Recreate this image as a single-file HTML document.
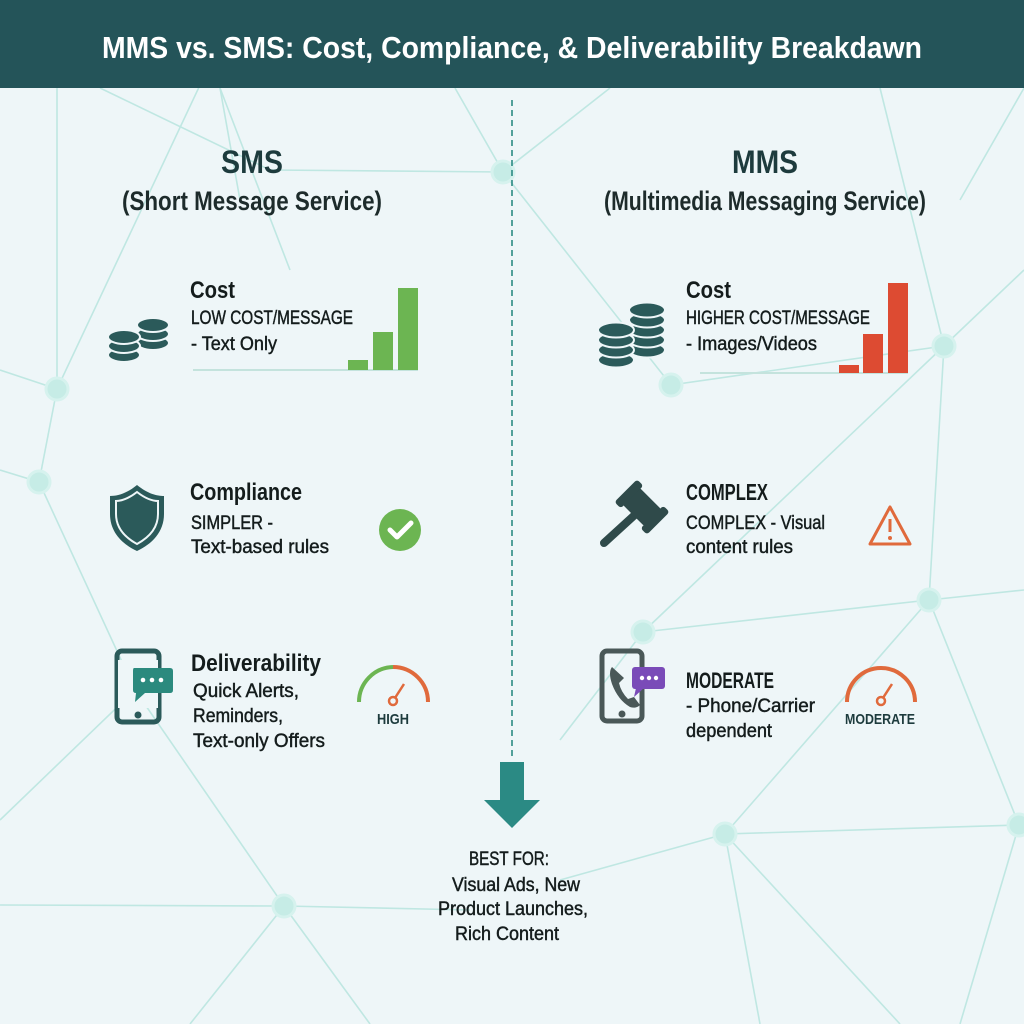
<!DOCTYPE html>
<html><head><meta charset="utf-8"><style>
html,body{margin:0;padding:0;background:#eef6f8}
svg{display:block}
text{font-family:"Liberation Sans Narrow","Liberation Sans",sans-serif;fill:#141c1c}
.b{font-weight:bold}
.r{stroke:#141c1c;stroke-width:0.45}
</style></head><body>
<svg width="1024" height="1024" viewBox="0 0 1024 1024" xmlns="http://www.w3.org/2000/svg">
<rect width="1024" height="1024" fill="#eef6f8"/>
<g stroke="#bfe7e2" stroke-width="1.6" fill="none">
<line x1="57" y1="88" x2="57" y2="389"/>
<line x1="57" y1="389" x2="0" y2="370"/>
<line x1="57" y1="389" x2="39" y2="482"/>
<line x1="39" y1="482" x2="0" y2="470"/>
<line x1="39" y1="482" x2="135" y2="690"/>
<line x1="135" y1="690" x2="284" y2="906"/>
<line x1="57" y1="389" x2="240" y2="0"/>
<line x1="100" y1="88" x2="270" y2="170"/>
<line x1="220" y1="88" x2="240" y2="200"/>
<line x1="503" y1="172" x2="270" y2="170"/>
<line x1="503" y1="172" x2="455" y2="88"/>
<line x1="503" y1="172" x2="610" y2="88"/>
<line x1="503" y1="172" x2="671" y2="385"/>
<line x1="671" y1="385" x2="944" y2="346"/>
<line x1="944" y1="346" x2="1024" y2="270"/>
<line x1="944" y1="346" x2="880" y2="88"/>
<line x1="944" y1="346" x2="929" y2="600"/>
<line x1="944" y1="346" x2="643" y2="632"/>
<line x1="929" y1="600" x2="643" y2="632"/>
<line x1="929" y1="600" x2="1024" y2="590"/>
<line x1="929" y1="600" x2="1019" y2="825"/>
<line x1="929" y1="600" x2="725" y2="834"/>
<line x1="643" y1="632" x2="560" y2="740"/>
<line x1="725" y1="834" x2="1019" y2="825"/>
<line x1="725" y1="834" x2="560" y2="880"/>
<line x1="725" y1="834" x2="900" y2="1024"/>
<line x1="725" y1="834" x2="760" y2="1024"/>
<line x1="1019" y1="825" x2="960" y2="1024"/>
<line x1="284" y1="906" x2="0" y2="905"/>
<line x1="284" y1="906" x2="470" y2="910"/>
<line x1="284" y1="906" x2="190" y2="1024"/>
<line x1="284" y1="906" x2="370" y2="1024"/>
<line x1="0" y1="820" x2="135" y2="690"/>
<line x1="220" y1="88" x2="290" y2="270"/>
<line x1="1024" y1="88" x2="960" y2="200"/>
</g>
<g fill="#c6ece6" stroke="#d6f2ee" stroke-width="3">
<circle cx="57" cy="389" r="11"/><circle cx="39" cy="482" r="11"/><circle cx="503" cy="172" r="11"/>
<circle cx="671" cy="385" r="11"/><circle cx="944" cy="346" r="11"/><circle cx="929" cy="600" r="11"/>
<circle cx="643" cy="632" r="11"/><circle cx="725" cy="834" r="11"/><circle cx="1019" cy="825" r="11"/>
<circle cx="284" cy="906" r="11"/>
</g>
<rect width="1024" height="88" fill="#245459"/>
<text x="512" y="58" text-anchor="middle" class="b" style="fill:#fff" font-size="31" textLength="820" lengthAdjust="spacingAndGlyphs">MMS vs. SMS: Cost, Compliance, &amp; Deliverability Breakdawn</text>
<line x1="512" y1="100" x2="512" y2="760" stroke="#2b8a84" stroke-width="1.6" stroke-dasharray="6,4"/>
<path d="M500 762 H524 V800 H540 L512 828 L484 800 H500 Z" fill="#2b8a84"/>
<text x="252" y="173" text-anchor="middle" class="b" font-size="32" textLength="62" lengthAdjust="spacingAndGlyphs" style="fill:#1d3b3d">SMS</text>
<text x="252" y="210" text-anchor="middle" font-size="27" textLength="260" lengthAdjust="spacingAndGlyphs" style="fill:#1d2b2b;font-weight:bold">(Short Message Service)</text>
<text x="765" y="173" text-anchor="middle" class="b" font-size="32" textLength="66" lengthAdjust="spacingAndGlyphs" style="fill:#1d3b3d">MMS</text>
<text x="765" y="210" text-anchor="middle" font-size="27" textLength="322" lengthAdjust="spacingAndGlyphs" style="fill:#1d2b2b;font-weight:bold">(Multimedia Messaging Service)</text>
<!-- left cost -->
<g fill="#2b5a5a" stroke="#eef6f8" stroke-width="2">
<ellipse cx="153" cy="343" rx="16" ry="7"/><ellipse cx="153" cy="334" rx="16" ry="7"/><ellipse cx="153" cy="325" rx="16" ry="7"/>
<ellipse cx="124" cy="355" rx="16" ry="7"/><ellipse cx="124" cy="346" rx="16" ry="7"/><ellipse cx="124" cy="337" rx="16" ry="7"/>
</g>
<text x="190" y="298" class="b" font-size="24" textLength="45" lengthAdjust="spacingAndGlyphs">Cost</text>
<text x="191" y="324" class="r" font-size="19" textLength="162" lengthAdjust="spacingAndGlyphs">LOW COST/MESSAGE</text>
<text x="191" y="350" class="r" font-size="19" textLength="86" lengthAdjust="spacingAndGlyphs">- Text Only</text>
<line x1="193" y1="370" x2="418" y2="370" stroke="#c4e3dd" stroke-width="2"/>
<g fill="#6cb552"><rect x="348" y="360" width="20" height="10"/><rect x="373" y="332" width="20" height="38"/><rect x="398" y="288" width="20" height="82"/></g>
<!-- shield -->
<path d="M137 485 C126 494 117 496 110 496 L110 514 C110 532 122 544 137 551 C152 544 164 532 164 514 L164 496 C157 496 148 494 137 485 Z" fill="#2b5a5a"/>
<path d="M137 492 C128 499 121 501 116 501 L116 514 C116 529 126 538 137 544 C148 538 158 529 158 514 L158 501 C153 501 146 499 137 492 Z" fill="none" stroke="#eef6f8" stroke-width="2"/>
<text x="190" y="500" class="b" font-size="24" textLength="112" lengthAdjust="spacingAndGlyphs">Compliance</text>
<text x="191" y="529" class="r" font-size="19" textLength="82" lengthAdjust="spacingAndGlyphs">SIMPLER -</text>
<text x="191" y="553" class="r" font-size="19" textLength="138" lengthAdjust="spacingAndGlyphs">Text-based rules</text>
<circle cx="400" cy="530" r="21" fill="#6cb552"/>
<path d="M390 530 L397 537 L411 523" fill="none" stroke="#fff" stroke-width="5" stroke-linecap="round" stroke-linejoin="round"/>
<!-- phone left -->
<rect x="117" y="651" width="42" height="71" rx="5" fill="none" stroke="#2b5a5a" stroke-width="5"/>
<rect x="118" y="660" width="40" height="48" fill="#eef6f8"/>
<circle cx="138" cy="715" r="3.5" fill="#2b5a5a"/>
<path d="M134 668 H170 Q173 668 173 671 V690 Q173 693 170 693 H145 L135 702 L136 693 Q133 693 133 690 V671 Q133 668 134 668 Z" fill="#2b8a7e"/>
<circle cx="143" cy="680" r="2.3" fill="#fff"/><circle cx="152" cy="680" r="2.3" fill="#fff"/><circle cx="161" cy="680" r="2.3" fill="#fff"/>
<text x="191" y="671" class="b" font-size="24" textLength="130" lengthAdjust="spacingAndGlyphs">Deliverability</text>
<text x="193" y="697" class="r" font-size="19" textLength="106" lengthAdjust="spacingAndGlyphs">Quick Alerts,</text>
<text x="193" y="722" class="r" font-size="19" textLength="90" lengthAdjust="spacingAndGlyphs">Reminders,</text>
<text x="193" y="747" class="r" font-size="19" textLength="132" lengthAdjust="spacingAndGlyphs">Text-only Offers</text>
<path d="M359 702 A35 35 0 0 1 393 667" fill="none" stroke="#6cb552" stroke-width="4"/>
<path d="M393 667 A35 35 0 0 1 428 702" fill="none" stroke="#e06a3c" stroke-width="4"/>
<line x1="393" y1="701" x2="404" y2="684" stroke="#e06a3c" stroke-width="2.5"/>
<circle cx="393" cy="701" r="4" fill="#eef6f8" stroke="#e06a3c" stroke-width="2.5"/>
<text x="393" y="724" text-anchor="middle" class="b" font-size="15" textLength="32" lengthAdjust="spacingAndGlyphs" style="fill:#1d3b3d">HIGH</text>
<!-- right cost -->
<g fill="#2b5a5a" stroke="#eef6f8" stroke-width="2">
<ellipse cx="647" cy="350" rx="18" ry="7.5"/><ellipse cx="647" cy="340" rx="18" ry="7.5"/><ellipse cx="647" cy="330" rx="18" ry="7.5"/><ellipse cx="647" cy="320" rx="18" ry="7.5"/><ellipse cx="647" cy="310" rx="18" ry="7.5"/>
<ellipse cx="616" cy="360" rx="18" ry="7.5"/><ellipse cx="616" cy="350" rx="18" ry="7.5"/><ellipse cx="616" cy="340" rx="18" ry="7.5"/><ellipse cx="616" cy="330" rx="18" ry="7.5"/>
</g>
<text x="686" y="298" class="b" font-size="24" textLength="45" lengthAdjust="spacingAndGlyphs">Cost</text>
<text x="686" y="324" class="r" font-size="19" textLength="184" lengthAdjust="spacingAndGlyphs">HIGHER COST/MESSAGE</text>
<text x="686" y="350" class="r" font-size="19" textLength="131" lengthAdjust="spacingAndGlyphs">- Images/Videos</text>
<line x1="700" y1="373" x2="908" y2="373" stroke="#c4e3dd" stroke-width="2"/>
<g fill="#dd4b32"><rect x="839" y="365" width="20" height="8"/><rect x="863" y="334" width="20" height="39"/><rect x="888" y="283" width="20" height="90"/></g>
<!-- gavel -->
<g fill="#2f4a4a">
<line x1="638" y1="512" x2="604" y2="543" stroke="#2f4a4a" stroke-width="8" stroke-linecap="round"/>
<g transform="rotate(-45 642 507)">
<rect x="630" y="492" width="24" height="30" rx="2"/>
<rect x="626" y="484" width="32" height="9" rx="3"/>
<rect x="626" y="521" width="32" height="9" rx="3"/>
</g>
</g>
<text x="686" y="500" class="b" font-size="23" textLength="82" lengthAdjust="spacingAndGlyphs">COMPLEX</text>
<text x="686" y="529" class="r" font-size="19" textLength="139" lengthAdjust="spacingAndGlyphs">COMPLEX - Visual</text>
<text x="686" y="553" class="r" font-size="19" textLength="107" lengthAdjust="spacingAndGlyphs">content rules</text>
<path d="M890 507 L910 544 H870 Z" fill="none" stroke="#e06a3c" stroke-width="3" stroke-linejoin="round"/>
<line x1="890" y1="519" x2="890" y2="532" stroke="#e06a3c" stroke-width="3"/>
<circle cx="890" cy="538" r="2" fill="#e06a3c"/>
<!-- phone right -->
<rect x="602" y="651" width="40" height="70" rx="5" fill="none" stroke="#4a5858" stroke-width="5"/>
<circle cx="622" cy="714" r="3.5" fill="#4a5858"/>
<path d="M612 667 Q608 672 612 684 Q618 700 630 707 Q636 709 640 705 L634 697 L628 699 Q621 692 619 683 L624 678 Z" fill="#4a5858"/>
<rect x="632" y="667" width="33" height="22" rx="3" fill="#7a4bb8"/>
<path d="M636 688 L634 697 L644 688 Z" fill="#7a4bb8"/>
<circle cx="642" cy="678" r="2.2" fill="#fff"/><circle cx="649" cy="678" r="2.2" fill="#fff"/><circle cx="656" cy="678" r="2.2" fill="#fff"/>
<text x="686" y="688" class="b" font-size="22" textLength="88" lengthAdjust="spacingAndGlyphs">MODERATE</text>
<text x="686" y="712" class="r" font-size="19" textLength="129" lengthAdjust="spacingAndGlyphs">- Phone/Carrier</text>
<text x="686" y="737" class="r" font-size="19" textLength="86" lengthAdjust="spacingAndGlyphs">dependent</text>
<path d="M847 702 A34 34 0 0 1 915 702" fill="none" stroke="#e06a3c" stroke-width="4"/>
<line x1="881" y1="701" x2="892" y2="684" stroke="#e06a3c" stroke-width="2.5"/>
<circle cx="881" cy="701" r="4" fill="#eef6f8" stroke="#e06a3c" stroke-width="2.5"/>
<text x="880" y="724" text-anchor="middle" class="b" font-size="15" textLength="70" lengthAdjust="spacingAndGlyphs" style="fill:#1d3b3d">MODERATE</text>
<!-- best for -->
<text x="469" y="865" class="r" font-size="19" textLength="80" lengthAdjust="spacingAndGlyphs">BEST FOR:</text>
<text x="452" y="891" class="r" font-size="19" textLength="128" lengthAdjust="spacingAndGlyphs">Visual Ads, New</text>
<text x="438" y="915" class="r" font-size="19" textLength="150" lengthAdjust="spacingAndGlyphs">Product Launches,</text>
<text x="455" y="940" class="r" font-size="19" textLength="104" lengthAdjust="spacingAndGlyphs">Rich Content</text>
</svg>
</body></html>
